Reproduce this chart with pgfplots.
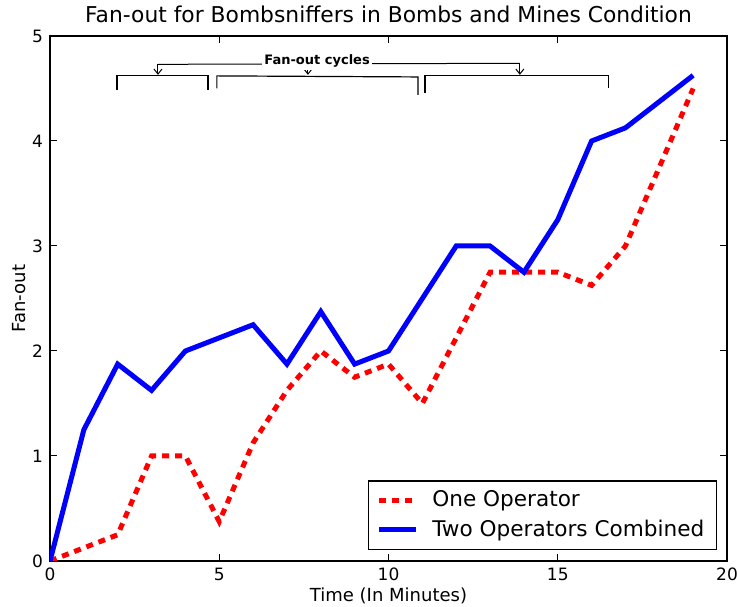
\documentclass[border=0pt]{standalone}
\usepackage{pgfplots}
\pgfplotsset{compat=1.18}
\usetikzlibrary{arrows.meta}
\usepackage{fontspec}
\setmainfont{DejaVu Sans}
\begin{document}
\begin{tikzpicture}
\begin{axis}[
  name=ax,
  scale only axis, width=338.5pt, height=262.5pt,
  xmin=0, xmax=20, ymin=0, ymax=5,
  xtick={0,5,10,15,20}, ytick={0,1,2,3,4,5},
  tick align=inside, xtick pos=both, ytick pos=both,
  major tick length=3.5pt,
  axis line style={line width=1.1pt},
  every tick/.style={black, line width=0.5pt},
  tick label style={font=\fontsize{8.5}{10}\selectfont},
  /pgf/number format/assume math mode=true,
  title={Fan-out for Bombsniffers in Bombs and Mines Condition},
  title style={font=\fontsize{10.9}{12}\selectfont, yshift=-3pt},
  xlabel={Time (In Minutes)}, ylabel={Fan-out},
  label style={font=\fontsize{9}{11}\selectfont},
  xlabel style={yshift=3.5pt}, ylabel style={yshift=-3.5pt},
  legend style={at={(0.985,0.021)}, anchor=south east, draw=black, line width=0.6pt,
    font=\fontsize{10.8}{13}\selectfont, inner xsep=4pt, inner ysep=3pt, row sep=1pt},
  legend cell align=left,
  legend image code/.code={\draw[#1] (0pt,0pt) -- (18.5pt,0pt);},
]
\addplot[red, line width=2.5pt, dash pattern=on 3.5pt off 3pt] coordinates {
(0,0) (1,0.125) (2,0.25) (3,1.0) (4,1.0) (5,0.375) (6,1.125) (7,1.625) (8,2.0) (9,1.75)
(10,1.875) (11,1.5) (12,2.125) (13,2.75) (14,2.75) (15,2.75) (16,2.625) (17,3.0) (18,3.75) (19,4.5)
};
\addlegendentry{\hspace{5pt}One Operator}
\addplot[blue, line width=2.5pt] coordinates {
(0,0) (1,1.25) (2,1.875) (3,1.625) (4,2.0) (5,2.125) (6,2.25) (7,1.875) (8,2.375) (9,1.875)
(10,2.0) (11,2.5) (12,3.0) (13,3.0) (14,2.75) (15,3.25) (16,4.0) (17,4.125) (18,4.375) (19,4.625)
};
\addlegendentry{\hspace{5pt}Two Operators Combined}
% annotation
\draw[black, line width=0.6pt] (axis cs:1.98,4.49) -- (axis cs:1.98,4.62) -- (axis cs:4.67,4.62) -- (axis cs:4.67,4.49);
\draw[black, line width=0.6pt] (axis cs:4.93,4.5) -- (axis cs:4.93,4.62) -- (axis cs:10.87,4.61) -- (axis cs:10.87,4.44);
\draw[black, line width=0.6pt] (axis cs:11.08,4.46) -- (axis cs:11.08,4.62) -- (axis cs:16.51,4.62) -- (axis cs:16.51,4.5);
\draw[black, line width=0.5pt] (axis cs:3.19,4.73) -- (axis cs:13.88,4.74);
\draw[black, line width=0.5pt, -{Straight Barb[length=2.5pt,width=4pt]}] (axis cs:3.19,4.73) -- (axis cs:3.19,4.63);
\draw[black, line width=0.5pt, -{Straight Barb[length=2.5pt,width=4pt]}] (axis cs:7.62,4.74) -- (axis cs:7.62,4.63);
\draw[black, line width=0.5pt, -{Straight Barb[length=2.5pt,width=4pt]}] (axis cs:13.88,4.74) -- (axis cs:13.88,4.63);
\node[fill=white, inner sep=1pt, font=\fontsize{6.5}{8}\selectfont\bfseries] at (axis cs:7.89,4.76) {Fan-out cycles};
\end{axis}
\pgfresetboundingbox
\useasboundingbox ([xshift=-25pt,yshift=-23pt]ax.south west) rectangle ([xshift=5pt,yshift=18pt]ax.north east);
\end{tikzpicture}
\end{document}
